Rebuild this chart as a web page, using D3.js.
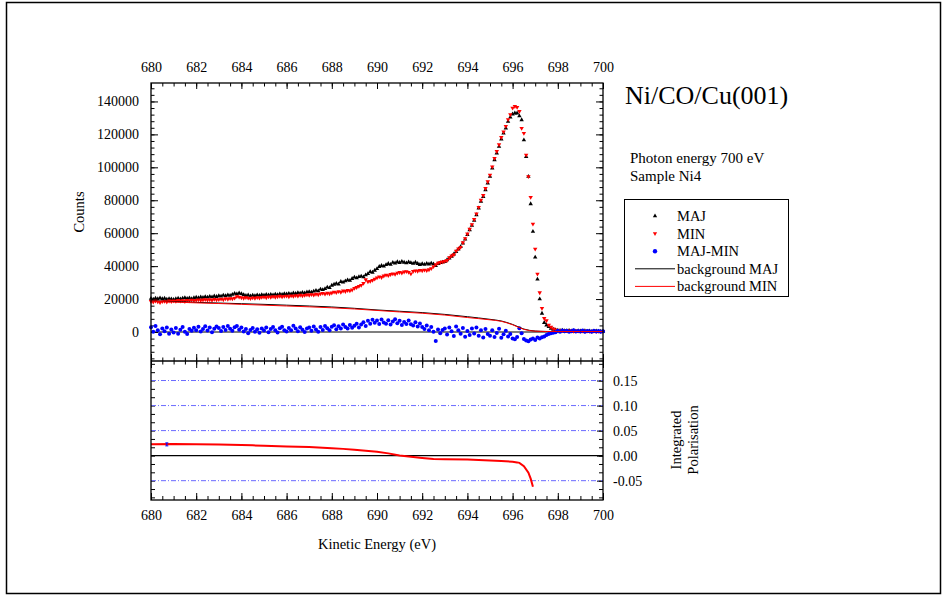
<!DOCTYPE html>
<html>
<head>
<meta charset="utf-8">
<script src="https://cdn.jsdelivr.net/npm/d3@7"></script>
<style>
  body { margin: 0; background: #fff; }
  svg { display: block; font-family: "Liberation Serif", "Times New Roman", serif; }
</style>
</head>
<body>
<svg id="chart" width="947" height="598"></svg>
<script>
// kinetic energy grid (eV)
const energy = [
  680.0,680.1,680.2,680.3,680.4,680.5,680.6,680.7,680.8,680.9,
  681.0,681.1,681.2,681.3,681.4,681.5,681.6,681.7,681.8,681.9,
  682.0,682.1,682.2,682.3,682.4,682.5,682.6,682.7,682.8,682.9,
  683.0,683.1,683.2,683.3,683.4,683.5,683.6,683.7,683.8,683.9,
  684.0,684.1,684.2,684.3,684.4,684.5,684.6,684.7,684.8,684.9,
  685.0,685.1,685.2,685.3,685.4,685.5,685.6,685.7,685.8,685.9,
  686.0,686.1,686.2,686.3,686.4,686.5,686.6,686.7,686.8,686.9,
  687.0,687.1,687.2,687.3,687.4,687.5,687.6,687.7,687.8,687.9,
  688.0,688.1,688.2,688.3,688.4,688.5,688.6,688.7,688.8,688.9,
  689.0,689.1,689.2,689.3,689.4,689.5,689.6,689.7,689.8,689.9,
  690.0,690.1,690.2,690.3,690.4,690.5,690.6,690.7,690.8,690.9,
  691.0,691.1,691.2,691.3,691.4,691.5,691.6,691.7,691.8,691.9,
  692.0,692.1,692.2,692.3,692.4,692.5,692.6,692.7,692.8,692.9,
  693.0,693.1,693.2,693.3,693.4,693.5,693.6,693.7,693.8,693.9,
  694.0,694.1,694.2,694.3,694.4,694.5,694.6,694.7,694.8,694.9,
  695.0,695.1,695.2,695.3,695.4,695.5,695.6,695.7,695.8,695.9,
  696.0,696.1,696.2,696.3,696.4,696.5,696.6,696.7,696.8,696.9,
  697.0,697.1,697.2,697.3,697.4,697.5,697.6,697.7,697.8,697.9,
  698.0,698.1,698.2,698.3,698.4,698.5,698.6,698.7,698.8,698.9,
  699.0,699.1,699.2,699.3,699.4,699.5,699.6,699.7,699.8,699.9,
  700.0
];

// counts, in thousands
const majK = [
  20.3,19.9,20.5,20.1,20.6,20.2,20.4,19.8,20.2,20.0,
  19.7,20.1,20.4,20.0,20.5,20.8,20.3,20.6,20.2,20.7,
  21.0,20.7,21.2,20.9,21.4,21.1,21.6,21.3,21.8,21.5,
  22.0,21.7,22.3,22.0,22.5,22.2,22.8,23.4,23.1,23.6,
  23.2,22.6,22.1,22.4,21.9,22.3,22.0,22.5,22.2,22.6,
  22.3,22.7,22.4,22.8,22.5,22.9,22.6,23.1,22.8,23.2,
  23.0,23.4,23.1,23.6,23.3,23.8,23.5,24.0,23.7,24.2,
  24.4,24.1,24.7,25.2,24.9,26.0,25.7,26.3,27.2,26.9,
  28.3,28.9,29.4,29.0,30.6,30.2,31.0,31.6,31.3,32.4,
  33.2,32.8,33.5,33.9,33.4,34.6,35.4,36.6,36.2,37.4,
  38.4,39.7,40.3,39.9,40.8,41.5,41.0,42.2,41.8,42.6,
  42.1,42.8,42.3,41.9,42.5,42.0,41.6,42.3,41.5,40.9,
  41.4,41.0,41.6,41.2,41.7,41.3,40.2,41.5,42.0,42.4,
  42.7,43.8,44.8,45.9,47.3,48.8,50.2,51.8,53.9,56.3,
  59.0,62.0,64.7,67.7,71.1,75.2,79.3,82.2,86.3,90.4,
  94.4,99.5,104.5,108.6,112.6,117.1,120.7,123.8,127.8,130.4,
  132.3,132.9,132.9,131.2,128.8,116.6,106.5,94.4,77.8,61.0,
  45.4,32.0,20.0,11.3,5.7,4.2,3.2,2.2,1.6,1.2,
  1.0,0.9,1.1,0.8,0.7,0.9,0.6,0.8,0.5,0.7,
  0.6,0.4,0.7,0.5,0.6,0.3,0.5,0.6,0.4,0.5,
  0.4
];

const minK = [
  18.6,18.2,18.8,18.4,17.9,18.5,18.7,18.3,18.9,18.6,
  19.0,18.7,19.2,18.8,19.1,18.6,19.3,19.0,19.4,19.1,
  19.3,19.6,19.2,19.5,19.8,19.4,19.7,19.3,19.9,19.6,
  19.8,20.1,19.7,20.3,20.0,20.4,20.2,20.7,21.6,21.3,
  20.9,20.6,21.0,20.7,20.4,20.8,20.5,21.0,20.7,21.1,
  21.3,20.9,21.4,21.1,21.6,21.2,21.5,21.8,21.4,21.7,
  21.9,21.5,22.0,21.7,22.2,21.9,22.4,22.0,22.3,22.6,
  22.4,22.8,22.5,23.0,22.7,23.2,23.5,23.1,23.6,23.3,
  23.8,24.3,24.0,24.6,24.2,25.0,24.7,25.3,25.1,25.6,
  26.6,27.1,27.8,28.4,29.6,31.8,30.6,30.8,31.4,32.2,
  33.0,33.6,33.2,34.1,34.6,34.3,35.0,35.4,35.1,35.8,
  36.2,35.9,36.5,36.8,36.3,35.4,36.9,37.2,37.0,37.5,
  37.3,37.7,37.4,37.9,38.6,39.8,41.0,41.9,42.3,42.6,
  43.0,43.5,45.2,46.3,47.0,49.2,50.6,51.5,54.3,56.8,
  59.6,62.5,65.3,68.4,71.8,75.8,80.1,83.0,87.2,91.3,
  95.3,100.4,105.5,109.7,113.8,118.2,121.6,124.9,129.0,132.0,
  136.0,137.0,136.5,134.0,123.7,120.7,107.5,94.4,81.8,65.6,
  50.4,35.2,23.9,14.4,8.3,6.9,4.3,3.0,2.0,1.4,
  1.1,0.8,1.0,0.7,0.9,0.6,0.8,0.5,0.7,0.6,
  0.5,0.7,0.4,0.6,0.5,0.3,0.6,0.4,0.5,0.3,
  0.5
];

// MAJ-MIN (thousands)
const diffK = [
  2.9,0.2,3.6,1.0,-1.4,2.1,0.4,2.8,-1.0,1.5,
  -0.3,2.4,-1.1,1.3,3.0,0.2,-1.2,1.9,0.7,2.6,
  1.1,3.2,0.3,1.8,3.5,0.9,2.7,-0.2,2.0,3.3,
  2.5,0.6,3.1,1.2,3.6,2.0,0.8,2.9,3.7,1.4,
  2.8,0.3,1.9,-0.8,1.2,2.5,0.1,1.7,-0.4,2.2,
  0.9,2.7,-0.1,1.8,3.0,1.0,-0.3,2.3,3.2,1.1,
  0.3,2.4,1.0,3.8,2.2,0.5,2.9,1.4,0.0,2.1,
  2.7,0.8,3.4,1.5,0.2,3.0,1.2,3.6,2.3,1.0,
  3.2,4.1,1.7,3.5,2.2,4.5,3.0,2.1,4.3,2.6,
  3.8,5.0,2.8,4.6,6.0,3.6,6.8,5.0,7.5,5.6,
  7.0,4.9,7.6,5.8,5.0,7.2,4.5,6.4,7.8,5.3,
  6.8,4.2,6.1,4.9,7.0,4.7,3.9,6.0,3.4,5.1,
  3.0,1.8,3.9,1.0,3.1,0.2,-5.4,1.5,-0.8,1.2,
  2.1,-1.5,2.8,0.4,-2.4,3.3,1.0,-1.1,2.5,-2.9,
  0.6,-1.8,2.2,-0.9,2.8,-2.2,1.1,-3.3,1.8,-1.2,
  -2.2,1.0,-3.1,-0.6,2.0,-3.5,-1.4,0.7,-2.7,-1.2,
  -3.9,-4.4,-3.0,2.3,-0.8,-4.2,-5.1,-5.6,-4.6,-3.9,
  -4.9,-3.4,-4.0,-3.2,-2.7,-1.8,-1.2,-0.8,-0.5,-0.2,
  0.7,0.2,0.9,0.4,0.8,0.1,0.5,1.0,0.3,0.6,
  0.3,0.9,0.1,0.6,0.4,0.2,0.8,0.3,0.6,0.1,
  0.5
];

// backgrounds (thousands)
const bgEnergy = [680, 681, 682, 683, 684, 685, 686, 687, 688, 689, 690, 691, 692, 693, 694, 695, 695.5, 696, 696.5, 697, 697.5, 698, 699, 700];
const bgMajK   = [18.9, 18.5, 18.0, 17.6, 17.2, 16.8, 16.3, 15.8, 15.2, 14.4, 13.4, 12.6, 11.8, 10.7, 9.3, 7.7, 6.7, 4.6, 1.8, 0.6, 0.35, 0.3, 0.3, 0.3];
const bgMinK   = [18.7, 18.2, 17.7, 17.3, 16.8, 16.3, 15.8, 15.3, 14.7, 14.0, 13.1, 12.2, 11.4, 10.3, 8.8, 7.4, 6.5, 4.4, 1.6, 0.5, 0.3, 0.3, 0.3, 0.3];

// integrated polarisation
const polEnergy = [680, 681, 682, 683, 684, 684.5, 685, 686, 687, 688, 688.5, 689, 689.5, 690, 690.5, 691, 691.5, 692, 692.5, 693, 694, 694.5, 695, 695.5, 696, 696.2, 696.3, 696.5, 696.7, 696.8, 696.9];
const polValue  = [0.0225, 0.023, 0.0225, 0.022, 0.0212, 0.0205, 0.0195, 0.0182, 0.017, 0.0148, 0.0135, 0.0118, 0.0098, 0.0078, 0.0045, 0.0005, -0.002, -0.0045, -0.0065, -0.0072, -0.0078, -0.0085, -0.0095, -0.0108, -0.0122, -0.0135, -0.0145, -0.021, -0.034, -0.046, -0.062];
const polErr = { energy: 680.7, value: 0.0225, err: 0.003 };

const xTicks = [680, 682, 684, 686, 688, 690, 692, 694, 696, 698, 700];
const countTicksK = [0, 20, 40, 60, 80, 100, 120, 140];
const polTicks = [-0.05, 0.00, 0.05, 0.10, 0.15];
const polGrid = [-0.05, 0.05, 0.10, 0.15];
const legendLabels = ["MAJ", "MIN", "MAJ-MIN", "background MAJ", "background MIN"];

const svg = d3.select("#chart");
const L = 151, R = 603, T = 83, MID = 361, B = 500;

const x = d3.scaleLinear().domain([680, 700]).range([L, R]);
const yU = d3.scaleLinear().domain([-17.6, 151.2]).range([MID, T]);
const yL = d3.scaleLinear().domain([-0.0886, 0.189]).range([B, MID]);

// outer frame
svg.append("rect").attr("x", 6.5).attr("y", 2.5).attr("width", 934).attr("height", 591)
  .attr("fill", "none").attr("stroke", "#000").attr("stroke-width", 1.5);

const xMinor = d3.range(680, 700.01, 0.5);
const cMinor = d3.range(-16, 151, 4);
const pMinor = d3.range(-5, 12).map(i => i * 0.05 / 3);

function styleAxis(g) {
  g.select(".domain").remove();
  g.selectAll(".tick line").attr("stroke", "#000").attr("stroke-width", 1);
  g.selectAll("text").attr("font-size", 14).attr("fill", "#000")
    .attr("font-family", "Liberation Serif, serif");
}

function addAxis(axis, tx, ty) {
  svg.append("g").attr("transform", `translate(${tx},${ty})`).call(axis).call(styleAxis);
}

// top axis
addAxis(d3.axisTop(x).tickValues(xMinor).tickSizeInner(-3.5).tickSizeOuter(0).tickFormat(""), 0, T);
addAxis(d3.axisTop(x).tickValues(xTicks).tickSizeInner(-6).tickSizeOuter(0).tickPadding(11), 0, T);
// divider: upper panel bottom (up) and lower panel top (down)
addAxis(d3.axisBottom(x).tickValues(xMinor).tickSizeInner(-3.5).tickSizeOuter(0).tickFormat(""), 0, MID);
addAxis(d3.axisBottom(x).tickValues(xTicks).tickSizeInner(-7).tickSizeOuter(0).tickFormat(""), 0, MID);
addAxis(d3.axisTop(x).tickValues(xMinor).tickSizeInner(-3.5).tickSizeOuter(0).tickFormat(""), 0, MID);
addAxis(d3.axisTop(x).tickValues(xTicks).tickSizeInner(-7).tickSizeOuter(0).tickFormat(""), 0, MID);
// bottom axis
addAxis(d3.axisBottom(x).tickValues(xMinor).tickSizeInner(-4).tickSizeOuter(0).tickFormat(""), 0, B);
addAxis(d3.axisBottom(x).tickValues(xTicks).tickSizeInner(-7).tickSizeOuter(0).tickPadding(10), 0, B);

// upper panel y axes
addAxis(d3.axisLeft(yU).tickValues(cMinor).tickSizeInner(-3.5).tickSizeOuter(0).tickFormat(""), L, 0);
addAxis(d3.axisLeft(yU).tickValues(countTicksK).tickSizeInner(-7).tickSizeOuter(0).tickPadding(12)
  .tickFormat(d => String(d * 1000)), L, 0);
addAxis(d3.axisRight(yU).tickValues(cMinor).tickSizeInner(-3.5).tickSizeOuter(0).tickFormat(""), R, 0);
addAxis(d3.axisRight(yU).tickValues(countTicksK).tickSizeInner(-7).tickSizeOuter(0).tickFormat(""), R, 0);

// lower panel y axes
addAxis(d3.axisLeft(yL).tickValues(pMinor).tickSizeInner(-4).tickSizeOuter(0).tickFormat(""), L, 0);
addAxis(d3.axisRight(yL).tickValues(pMinor).tickSizeInner(-4).tickSizeOuter(0).tickFormat(""), R, 0);
addAxis(d3.axisRight(yL).tickValues(polTicks).tickSizeInner(-6).tickSizeOuter(0).tickPadding(10)
  .tickFormat(d => d3.format(".2f")(d).replace("\u2212", "-")), R, 0);

// lower panel grid
svg.append("g").selectAll("line").data(polGrid).join("line")
  .attr("x1", L).attr("x2", R).attr("y1", d => yL(d)).attr("y2", d => yL(d))
  .attr("stroke", "#6a6aff").attr("stroke-width", 1).attr("stroke-dasharray", "5,2,1,2");

// zero lines
svg.append("line").attr("x1", L).attr("x2", R).attr("y1", yU(0)).attr("y2", yU(0))
  .attr("stroke", "#000").attr("stroke-width", 1.2);
svg.append("line").attr("x1", L).attr("x2", R).attr("y1", yL(0)).attr("y2", yL(0))
  .attr("stroke", "#000").attr("stroke-width", 1.2);

// markers
const tri = d3.symbol(d3.symbolTriangle, 8.5);
svg.append("g").selectAll("path").data(energy).join("path")
  .attr("d", tri)
  .attr("transform", (d, i) => `translate(${x(d)},${yU(majK[i])})`)
  .attr("fill", "#000");
svg.append("g").selectAll("path").data(energy).join("path")
  .attr("d", tri)
  .attr("transform", (d, i) => `translate(${x(d)},${yU(minK[i])}) rotate(180)`)
  .attr("fill", "#ff0000");
svg.append("g").selectAll("circle").data(energy).join("circle")
  .attr("cx", d => x(d)).attr("cy", (d, i) => yU(diffK[i])).attr("r", 2)
  .attr("fill", "#0000ff");

// background lines
const bgLine = vals => d3.line().x(d => x(d)).y((d, i) => yU(vals[i])).curve(d3.curveMonotoneX)(bgEnergy);
svg.append("path").attr("d", bgLine(bgMajK)).attr("fill", "none").attr("stroke", "#000").attr("stroke-width", 1);
svg.append("path").attr("d", bgLine(bgMinK)).attr("fill", "none").attr("stroke", "#ff0000").attr("stroke-width", 1);

// polarisation
svg.append("path")
  .attr("d", d3.line().x(d => x(d)).y((d, i) => yL(polValue[i]))(polEnergy))
  .attr("fill", "none").attr("stroke", "#ff0000").attr("stroke-width", 2);
const ex = x(polErr.energy), ey1 = yL(polErr.value + polErr.err), ey2 = yL(polErr.value - polErr.err);
svg.append("path")
  .attr("d", `M${ex},${ey1}V${ey2}M${ex - 1.5},${ey1}H${ex + 1.5}M${ex - 1.5},${ey2}H${ex + 1.5}`)
  .attr("stroke", "#0000ff").attr("stroke-width", 1).attr("fill", "none");

// panel frames
svg.append("rect").attr("x", L).attr("y", T).attr("width", R - L).attr("height", B - T)
  .attr("fill", "none").attr("stroke", "#000").attr("stroke-width", 1.3);
svg.append("line").attr("x1", L).attr("x2", R).attr("y1", MID).attr("y2", MID)
  .attr("stroke", "#000").attr("stroke-width", 1.3);

// axis titles
svg.append("text").attr("transform", "translate(84,212) rotate(-90)")
  .attr("text-anchor", "middle").attr("font-size", 14.5).text("Counts");
svg.append("text").attr("x", (L + R) / 2).attr("y", 549)
  .attr("text-anchor", "middle").attr("font-size", 14.5).text("Kinetic Energy (eV)");
svg.append("text").attr("transform", "translate(681,440) rotate(-90)")
  .attr("text-anchor", "middle").attr("font-size", 14.5).text("Integrated");
svg.append("text").attr("transform", "translate(698,440) rotate(-90)")
  .attr("text-anchor", "middle").attr("font-size", 14.5).text("Polarisation");

// annotations
svg.append("text").attr("x", 625).attr("y", 104).attr("font-size", 26).text("Ni/CO/Cu(001)");
svg.append("text").attr("x", 630).attr("y", 163).attr("font-size", 15).text("Photon energy 700 eV");
svg.append("text").attr("x", 630).attr("y", 181).attr("font-size", 15).text("Sample Ni4");

// legend
const lg = svg.append("g");
lg.append("rect").attr("x", 624.5).attr("y", 199.5).attr("width", 164).attr("height", 97)
  .attr("fill", "#fff").attr("stroke", "#000").attr("stroke-width", 1);
const rowY = i => 216 + i * 17.6;
lg.selectAll("text").data(legendLabels).join("text")
  .attr("x", 677).attr("y", (d, i) => rowY(i) + 5).attr("font-size", 14.5).text(d => d);
lg.append("path").attr("d", d3.symbol(d3.symbolTriangle, 8))
  .attr("transform", `translate(655,${rowY(0)})`).attr("fill", "#000");
lg.append("path").attr("d", d3.symbol(d3.symbolTriangle, 8))
  .attr("transform", `translate(655,${rowY(1)}) rotate(180)`).attr("fill", "#ff0000");
lg.append("circle").attr("cx", 655).attr("cy", rowY(2)).attr("r", 2.2).attr("fill", "#0000ff");
lg.append("line").attr("x1", 635).attr("x2", 675).attr("y1", rowY(3)).attr("y2", rowY(3))
  .attr("stroke", "#000").attr("stroke-width", 1);
lg.append("line").attr("x1", 635).attr("x2", 675).attr("y1", rowY(4)).attr("y2", rowY(4))
  .attr("stroke", "#ff0000").attr("stroke-width", 1);
</script>
</body>
</html>
